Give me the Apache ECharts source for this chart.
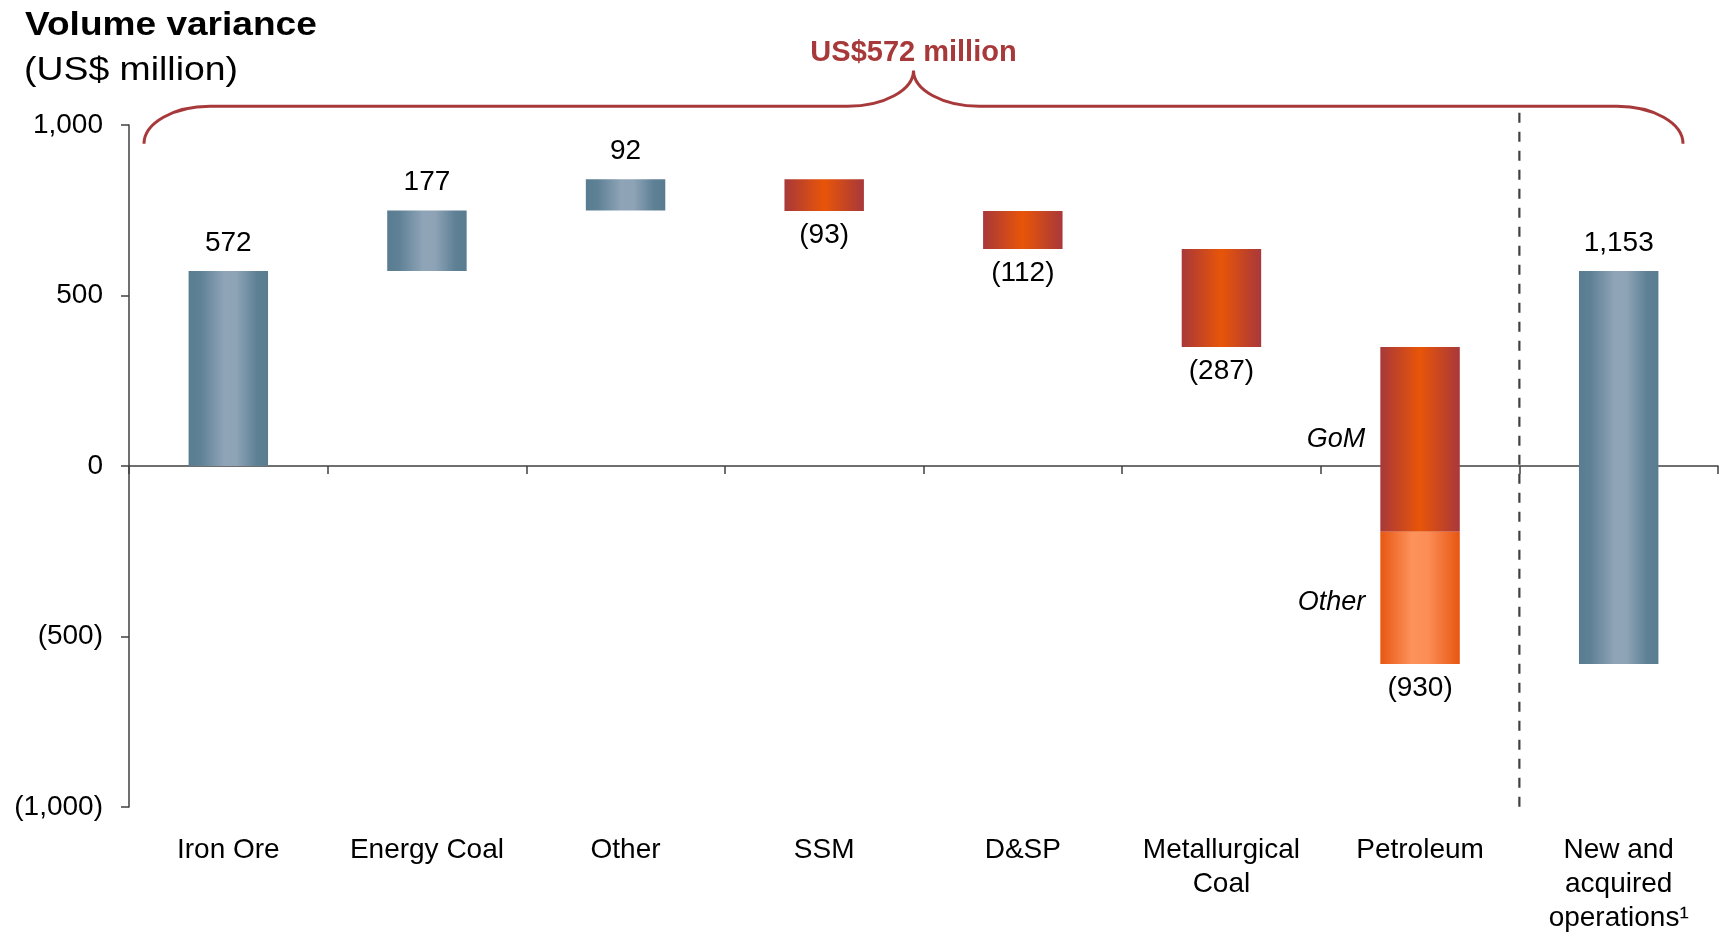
<!DOCTYPE html>
<html>
<head>
<meta charset="utf-8">
<title>Volume variance</title>
<script src="https://cdn.jsdelivr.net/npm/echarts@6/dist/echarts.min.js"></script>
<style>
html, body { margin: 0; padding: 0; background: #fff; }
#chart { width: 1723px; height: 932px; }
</style>
</head>
<body>
<div id="chart"></div>
<script>
const categories = ['Iron Ore', 'Energy Coal', 'Other', 'SSM', 'D&SP', 'Metallurgical\nCoal', 'Petroleum', 'New and\nacquired\noperations¹']
const changes = [572, 177, 92, -93, -112, -287, -930, 1153]
// petroleum is split in two pieces
const petroleumParts = [-542, -388]
const petroleumPartNames = ['GoM', 'Other']
const yTicks = [-1000, -500, 0, 500, 1000]
const braceText = 'US$572 million'

const FONT = '"Liberation Sans", Arial, sans-serif'

const fills = {
  up: {
    type: 'linear', x: 0, y: 0, x2: 1, y2: 0,
    colorStops: [
      { offset: 0, color: '#5a7c91' },
      { offset: 0.15, color: '#5f8196' },
      { offset: 0.45, color: '#8fa4b7' },
      { offset: 0.6, color: '#8ea3b6' },
      { offset: 0.85, color: '#5f8196' },
      { offset: 1, color: '#5a7c91' }
    ]
  },
  down: {
    type: 'linear', x: 0, y: 0, x2: 1, y2: 0,
    colorStops: [
      { offset: 0, color: '#a8383a' },
      { offset: 0.5, color: '#e85508' },
      { offset: 1, color: '#a8383a' }
    ]
  },
  down2: {
    type: 'linear', x: 0, y: 0, x2: 1, y2: 0,
    colorStops: [
      { offset: 0, color: '#e85612' },
      { offset: 0.4, color: '#fd935c' },
      { offset: 0.6, color: '#fb8d55' },
      { offset: 1, color: '#e85612' }
    ]
  }
}

function fmt(v) {
  const s = Math.abs(v).toLocaleString('en-US')
  return v < 0 ? '(' + s + ')' : s
}

// build waterfall segments: [catIndex, low, high], plus kind/name kept aside
const segments = []
const segInfo = []
const valueLabels = []
let cum = 0
changes.forEach((c, i) => {
  const start = cum
  const end = cum + c
  if (categories[i] === 'Petroleum') {
    let s = start
    petroleumParts.forEach((p, k) => {
      segments.push([i, s + p, s])
      segInfo.push({ kind: k === 0 ? 'down' : 'down2', name: petroleumPartNames[k] })
      s += p
    })
  } else {
    segments.push([i, Math.min(start, end), Math.max(start, end)])
    segInfo.push({ kind: c >= 0 ? 'up' : 'down', name: '' })
  }
  valueLabels.push([i, end, c])
  cum = end
})

function renderBar(params, api) {
  const idx = api.value(0)
  const lo = api.coord([idx, api.value(1)])
  const hi = api.coord([idx, api.value(2)])
  const w = api.size([1, 0])[0] * 0.4
  const info = segInfo[params.dataIndex]
  const children = [{
    type: 'rect',
    shape: { x: lo[0] - w / 2, y: hi[1], width: w, height: lo[1] - hi[1] },
    style: { fill: fills[info.kind] }
  }]
  if (info.name) {
    children.push({
      type: 'text',
      style: {
        text: info.name, x: lo[0] - w / 2 - 15, y: (lo[1] + hi[1]) / 2 + (info.kind === 'down2' ? 5 : 0),
        align: 'right', verticalAlign: 'middle',
        font: 'italic 27px ' + FONT, fill: '#000'
      }
    })
  }
  return { type: 'group', children }
}

function renderValueLabel(params, api) {
  const idx = api.value(0)
  const change = api.value(2)
  const p = api.coord([idx, api.value(1)])
  return {
    type: 'text',
    style: {
      text: fmt(change), x: p[0], y: change >= 0 ? p[1] - 28 : p[1] + 24,
      align: 'center', verticalAlign: 'middle',
      font: '28px ' + FONT, fill: '#000'
    }
  }
}

function renderDivider(params, api) {
  const band = api.size([1, 0])[0]
  const x = api.coord([categories.length - 2, 0])[0] + band / 2
  return {
    type: 'line',
    shape: { x1: x, y1: api.coord([0, 1036])[1], x2: x, y2: api.coord([0, -1024])[1] },
    style: { stroke: '#404040', lineWidth: 2.2, lineDash: [10, 9] }
  }
}

function renderBrace(params, api) {
  const band = api.size([1, 0])[0]
  const xL = api.coord([0, 0])[0] - band / 2 + 15
  const xR = api.coord([categories.length - 1, 0])[0] + band / 2 - 35
  const xM = (xL + xR) / 2
  const yEnd = api.coord([0, 945])[1]
  const yLine = api.coord([0, 1055])[1]
  const yPeak = api.coord([0, 1160])[1]
  const yText = api.coord([0, 1212])[1]
  const rx = 66, ry = yEnd - yLine, rp = yLine - yPeak, k = 0.55
  const d = [
    'M', xL, yEnd,
    'C', xL, yEnd - k * ry, xL + rx - k * rx, yLine, xL + rx, yLine,
    'L', xM - rx, yLine,
    'C', xM - rx + k * rx, yLine, xM, yPeak + k * rp, xM, yPeak,
    'C', xM, yPeak + k * rp, xM + rx - k * rx, yLine, xM + rx, yLine,
    'L', xR - rx, yLine,
    'C', xR - rx + k * rx, yLine, xR, yEnd - k * ry, xR, yEnd
  ].join(' ')
  return {
    type: 'group',
    children: [
      { type: 'path', shape: { pathData: d }, style: { fill: 'none', stroke: '#a8393a', lineWidth: 3 } },
      {
        type: 'text',
        style: {
          text: braceText, x: xM, y: yText, align: 'center', verticalAlign: 'middle',
          font: 'bold 29px ' + FONT, fill: '#a8393a'
        }
      }
    ]
  }
}

const chart = echarts.init(document.getElementById('chart'))

const option = {
  animation: false,
  backgroundColor: '#fff',
  graphic: [
    {
      type: 'text', x: 25, y: 9, scaleX: 1.09,
      style: { text: 'Volume variance', font: 'bold 34px ' + FONT, fill: '#000', verticalAlign: 'top' }
    },
    {
      type: 'text', x: 24, y: 54, scaleX: 1.1,
      style: { text: '(US$ million)', font: '34px ' + FONT, fill: '#000', verticalAlign: 'top' }
    }
  ],
  grid: { left: 129, right: 5, top: 125, bottom: 125, containLabel: false, outerBoundsMode: 'none' },
  xAxis: [
    {
      type: 'category',
      data: categories,
      position: 'bottom',
      axisLine: { onZero: true, lineStyle: { color: '#404040', width: 1.5 } },
      axisTick: { show: true, length: 8, lineStyle: { color: '#404040', width: 1.5 } },
      axisLabel: { show: false },
      splitLine: { show: false }
    },
    {
      type: 'category',
      data: categories,
      position: 'bottom',
      axisLine: { show: false, onZero: false },
      axisTick: { show: false },
      axisLabel: {
        margin: 26, color: '#000', fontFamily: FONT, fontSize: 28, lineHeight: 34,
        interval: 0, align: 'center', verticalAlign: 'top'
      },
      splitLine: { show: false }
    }
  ],
  yAxis: {
    type: 'value',
    min: yTicks[0],
    max: yTicks[yTicks.length - 1],
    interval: 500,
    axisLine: { show: true, onZero: false, lineStyle: { color: '#404040', width: 1.5 } },
    axisTick: { show: true, length: 8, lineStyle: { color: '#404040', width: 1.5 } },
    axisLabel: { margin: 26, color: '#000', fontFamily: FONT, fontSize: 28, formatter: v => fmt(v) },
    splitLine: { show: false }
  },
  series: [
    {
      type: 'custom',
      name: 'bars',
      renderItem: renderBar,
      encode: { x: 0, y: [1, 2] },
      data: segments,
      z: 3
    },
    {
      type: 'custom',
      name: 'labels',
      renderItem: renderValueLabel,
      encode: { x: 0, y: 1 },
      data: valueLabels,
      z: 4
    },
    {
      type: 'custom',
      name: 'divider',
      renderItem: renderDivider,
      clip: false,
      data: [[0, 0]],
      z: 2
    },
    {
      type: 'custom',
      name: 'brace',
      renderItem: renderBrace,
      clip: false,
      data: [[0, 0]],
      z: 2
    }
  ]
}

chart.setOption(option)
window.addEventListener('resize', () => chart.resize())
</script>
</body>
</html>
